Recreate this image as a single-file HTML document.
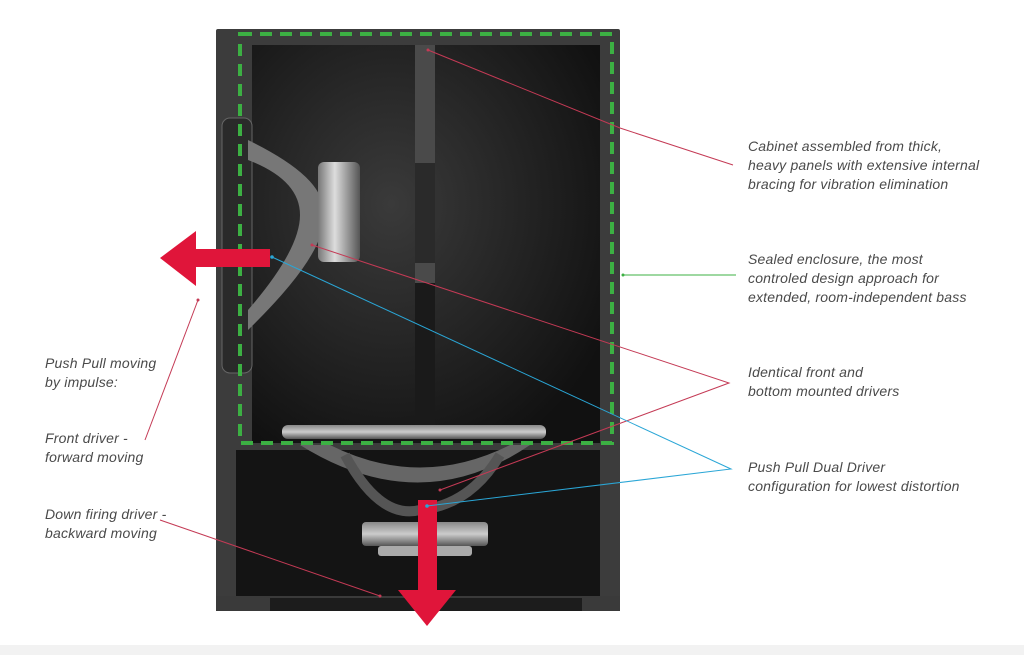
<!DOCTYPE html>
<html><head><meta charset="utf-8"><style>
body{margin:0;background:#fff;width:1024px;height:655px;overflow:hidden;font-family:"Liberation Sans",sans-serif}
.t{position:absolute;font-style:italic;font-size:14px;letter-spacing:0.2px;line-height:19px;color:#4a4a4a;white-space:nowrap}
</style></head><body>
<svg width="1024" height="655" style="position:absolute;left:0;top:0">
<defs>
<radialGradient id="bg" cx="0.4" cy="0.4" r="0.7"><stop offset="0" stop-color="#3a3a3a"/><stop offset="1" stop-color="#111"/></radialGradient>
<linearGradient id="met" x1="0" x2="1"><stop offset="0" stop-color="#777"/><stop offset="0.4" stop-color="#ddd"/><stop offset="1" stop-color="#555"/></linearGradient>
<linearGradient id="metv" x1="0" y1="0" x2="0" y2="1"><stop offset="0" stop-color="#888"/><stop offset="0.5" stop-color="#ccc"/><stop offset="1" stop-color="#555"/></linearGradient>
</defs>
<rect x="0" y="645" width="1024" height="10" fill="#f2f2f2"/>
<rect x="216" y="29" width="404" height="582" fill="#3c3c3c" rx="2"/>
<rect x="252" y="45" width="348" height="398" fill="url(#bg)"/>
<rect x="236" y="450" width="364" height="146" fill="#141414"/>
<rect x="216" y="596" width="404" height="15" fill="#3a3a3a"/>
<rect x="270" y="598" width="312" height="13" fill="#1c1c1c"/>
<rect x="415" y="45" width="20" height="118" fill="#4a4a4a"/>
<rect x="415" y="163" width="20" height="100" fill="#2a2a2a"/>
<rect x="415" y="263" width="20" height="20" fill="#4a4a4a"/>
<rect x="415" y="283" width="20" height="150" fill="#1a1a1a"/>
<rect x="222" y="118" width="30" height="255" rx="8" fill="#2a2a2a" stroke="#666"/>
<path d="M248 140 Q330 180 322 215 Q330 250 248 330 L248 310 Q300 250 300 215 Q300 180 248 160Z" fill="#777"/>
<rect x="318" y="162" width="42" height="100" rx="6" fill="url(#met)"/>
<rect x="282" y="425" width="264" height="14" rx="6" fill="url(#metv)"/>
<path d="M300 445 Q420 520 530 445 L510 445 Q420 490 330 445Z" fill="#666"/>
<path d="M345 455 Q380 520 420 510 Q470 505 500 455" fill="none" stroke="#555" stroke-width="10"/>
<rect x="362" y="522" width="126" height="24" rx="4" fill="url(#metv)"/>
<rect x="378" y="546" width="94" height="10" rx="3" fill="#aaa"/>
<path d="M240 34 H612 V443 H240 Z" fill="none" stroke="#3cb043" stroke-width="4" stroke-dasharray="12 8"/>
<rect x="190" y="249" width="80" height="18" fill="#e0153a"/>
<polygon points="160,258 196,231 196,286" fill="#e0153a"/>
<rect x="418" y="500" width="19" height="92" fill="#e0153a"/>
<polygon points="398,590 456,590 427,626" fill="#e0153a"/>
<g stroke="#c43a55" stroke-width="1" fill="none">
<polyline points="428,50 620,128 733,165"/>
<polyline points="312,245 729,383 440,490"/>
<line x1="198" y1="300" x2="145" y2="440"/>
<line x1="160" y1="520" x2="380" y2="596"/>
</g>
<g stroke="#2aa6d6" stroke-width="1" fill="none">
<polyline points="272,257 731,469 427,506"/>
</g>
<line x1="623" y1="275" x2="736" y2="275" stroke="#3cb043"/>
<g fill="#c43a55"><circle cx="428" cy="50" r="1.5"/><circle cx="312" cy="245" r="1.5"/><circle cx="440" cy="490" r="1.5"/><circle cx="198" cy="300" r="1.5"/><circle cx="380" cy="596" r="1.5"/></g>
<g fill="#2aa6d6"><circle cx="272" cy="257" r="1.8"/><circle cx="427" cy="506" r="1.8"/></g>
<circle cx="623" cy="275" r="1.5" fill="#3cb043"/>
</svg>
<div class="t" style="left:748px;top:137px">Cabinet assembled from thick,<br>heavy panels with extensive internal<br>bracing for vibration elimination</div>
<div class="t" style="left:748px;top:250px">Sealed enclosure, the most<br>controled design approach for<br>extended, room-independent bass</div>
<div class="t" style="left:748px;top:363px">Identical front and<br>bottom mounted drivers</div>
<div class="t" style="left:748px;top:458px">Push Pull Dual Driver<br>configuration for lowest distortion</div>
<div class="t" style="left:45px;top:354px">Push Pull moving<br>by impulse:</div>
<div class="t" style="left:45px;top:429px">Front driver -<br>forward moving</div>
<div class="t" style="left:45px;top:505px">Down firing driver -<br>backward moving</div>
</body></html>
